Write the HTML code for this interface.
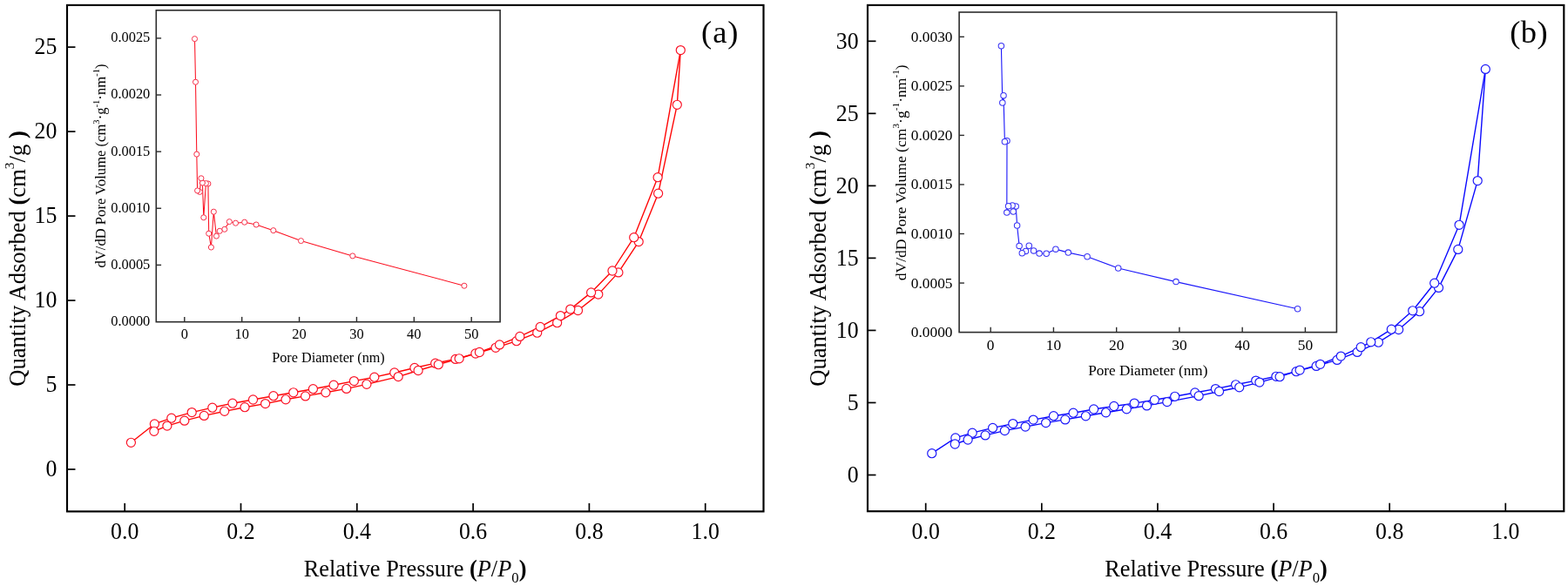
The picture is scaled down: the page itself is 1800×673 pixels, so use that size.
<!DOCTYPE html>
<html lang="en"><head><meta charset="utf-8"><title>N2 adsorption-desorption isotherms and pore size distributions</title>
<style>html,body{margin:0;padding:0;background:#fff;}body{width:1800px;height:673px;overflow:hidden;}svg{display:block;font-family:"Liberation Serif","Times New Roman",serif;}text{fill:#000;}</style>
</head><body>
<svg width="1800" height="673" viewBox="0 0 1800 673">
<rect width="1800" height="673" fill="#fff"/>
<g id="panel-a">
<g class="main-data">
<polyline points="150.4,508.3 177.4,486.95 196.8,480.2 220.2,473.6 243.8,468.2 266.95,463.2 290.5,459 313.9,454.7 336.8,450.8 359.4,446.7 383.1,442.2 406.4,437.6 429.8,433.2 452.8,428 475.9,422.5 499.7,417.2 522.9,412.4 545.9,406 569,399.3 592.9,391.7 616.7,382.2 639.6,370.7 663.5,356.5 686.8,338.1 709.9,312.9 733.2,277.6 755.6,222.2 777.3,120.3 781.3,57.6" fill="none" stroke="#ff0505" stroke-width="1.38" stroke-linejoin="round"/>
<polyline points="176.85,495.3 191.9,489.1 211.8,483.15 234.3,477.4 257.7,472.3 281,467.7 304.6,463.6 328,458.8 350.6,454.9 373.9,450.8 397.7,446.4 420.9,441.3 457.2,432.6 480.1,425.5 503.3,418.7 527.1,411.8 550.4,404.5 573.5,395.9 596.8,386.4 620.2,375.4 643.4,362.6 654.8,355.1 678.6,335.9 703,311 727.7,272.7 755.1,203.7 781.3,57.6" fill="none" stroke="#ff0505" stroke-width="1.38" stroke-linejoin="round"/>
<g fill="#fff" stroke="#fa1226" stroke-width="1.18">
<circle cx="150.4" cy="508.3" r="5.05"/>
<circle cx="177.4" cy="486.95" r="5.05"/>
<circle cx="196.8" cy="480.2" r="5.05"/>
<circle cx="220.2" cy="473.6" r="5.05"/>
<circle cx="243.8" cy="468.2" r="5.05"/>
<circle cx="266.95" cy="463.2" r="5.05"/>
<circle cx="290.5" cy="459" r="5.05"/>
<circle cx="313.9" cy="454.7" r="5.05"/>
<circle cx="336.8" cy="450.8" r="5.05"/>
<circle cx="359.4" cy="446.7" r="5.05"/>
<circle cx="383.1" cy="442.2" r="5.05"/>
<circle cx="406.4" cy="437.6" r="5.05"/>
<circle cx="429.8" cy="433.2" r="5.05"/>
<circle cx="452.8" cy="428" r="5.05"/>
<circle cx="475.9" cy="422.5" r="5.05"/>
<circle cx="499.7" cy="417.2" r="5.05"/>
<circle cx="522.9" cy="412.4" r="5.05"/>
<circle cx="545.9" cy="406" r="5.05"/>
<circle cx="569" cy="399.3" r="5.05"/>
<circle cx="592.9" cy="391.7" r="5.05"/>
<circle cx="616.7" cy="382.2" r="5.05"/>
<circle cx="639.6" cy="370.7" r="5.05"/>
<circle cx="663.5" cy="356.5" r="5.05"/>
<circle cx="686.8" cy="338.1" r="5.05"/>
<circle cx="709.9" cy="312.9" r="5.05"/>
<circle cx="733.2" cy="277.6" r="5.05"/>
<circle cx="755.6" cy="222.2" r="5.05"/>
<circle cx="777.3" cy="120.3" r="5.05"/>
</g>
<g fill="#fff" stroke="#fa1226" stroke-width="1.18">
<circle cx="176.85" cy="495.3" r="5.05"/>
<circle cx="191.9" cy="489.1" r="5.05"/>
<circle cx="211.8" cy="483.15" r="5.05"/>
<circle cx="234.3" cy="477.4" r="5.05"/>
<circle cx="257.7" cy="472.3" r="5.05"/>
<circle cx="281" cy="467.7" r="5.05"/>
<circle cx="304.6" cy="463.6" r="5.05"/>
<circle cx="328" cy="458.8" r="5.05"/>
<circle cx="350.6" cy="454.9" r="5.05"/>
<circle cx="373.9" cy="450.8" r="5.05"/>
<circle cx="397.7" cy="446.4" r="5.05"/>
<circle cx="420.9" cy="441.3" r="5.05"/>
<circle cx="457.2" cy="432.6" r="5.05"/>
<circle cx="480.1" cy="425.5" r="5.05"/>
<circle cx="503.3" cy="418.7" r="5.05"/>
<circle cx="527.1" cy="411.8" r="5.05"/>
<circle cx="550.4" cy="404.5" r="5.05"/>
<circle cx="573.5" cy="395.9" r="5.05"/>
<circle cx="596.8" cy="386.4" r="5.05"/>
<circle cx="620.2" cy="375.4" r="5.05"/>
<circle cx="643.4" cy="362.6" r="5.05"/>
<circle cx="654.8" cy="355.1" r="5.05"/>
<circle cx="678.6" cy="335.9" r="5.05"/>
<circle cx="703" cy="311" r="5.05"/>
<circle cx="727.7" cy="272.7" r="5.05"/>
<circle cx="755.1" cy="203.7" r="5.05"/>
<circle cx="781.3" cy="57.6" r="5.05"/>
</g>
</g>
<rect x="77" y="5.9" width="799.5" height="581.5" fill="none" stroke="#000" stroke-width="2.15"/>
<g stroke="#000" stroke-width="1.7">
<line x1="77" y1="539" x2="86.48" y2="539"/>
<line x1="77" y1="442.02" x2="86.48" y2="442.02"/>
<line x1="77" y1="345.04" x2="86.48" y2="345.04"/>
<line x1="77" y1="248.06" x2="86.48" y2="248.06"/>
<line x1="77" y1="151.08" x2="86.48" y2="151.08"/>
<line x1="77" y1="54.1" x2="86.48" y2="54.1"/>
<line x1="143.2" y1="587.4" x2="143.2" y2="577.92"/>
<line x1="276.5" y1="587.4" x2="276.5" y2="577.92"/>
<line x1="409.8" y1="587.4" x2="409.8" y2="577.92"/>
<line x1="543.1" y1="587.4" x2="543.1" y2="577.92"/>
<line x1="676.4" y1="587.4" x2="676.4" y2="577.92"/>
<line x1="809.7" y1="587.4" x2="809.7" y2="577.92"/>
</g>
<g font-size="27.0" text-anchor="end">
<text transform="translate(65.4 546.9) scale(0.957 1.015)">0</text>
<text transform="translate(65.4 449.92) scale(0.957 1.015)">5</text>
<text transform="translate(65.4 352.94) scale(0.957 1.015)">10</text>
<text transform="translate(65.4 255.96) scale(0.957 1.015)">15</text>
<text transform="translate(65.4 158.98) scale(0.957 1.015)">20</text>
<text transform="translate(65.4 62) scale(0.957 1.015)">25</text>
</g>
<g font-size="27.0" text-anchor="middle">
<text transform="translate(143.2 618.5) scale(0.957 1.015)">0.0</text>
<text transform="translate(276.5 618.5) scale(0.957 1.015)">0.2</text>
<text transform="translate(409.8 618.5) scale(0.957 1.015)">0.4</text>
<text transform="translate(543.1 618.5) scale(0.957 1.015)">0.6</text>
<text transform="translate(676.4 618.5) scale(0.957 1.015)">0.8</text>
<text transform="translate(809.7 618.5) scale(0.957 1.015)">1.0</text>
</g>
<text x="476.6" y="662.1" font-size="26.35" text-anchor="middle">Relative Pressure <tspan font-weight="bold">(</tspan><tspan font-style="italic">P</tspan>/<tspan font-style="italic">P</tspan><tspan font-size="16.73" dy="7.3">0</tspan><tspan font-weight="bold" dy="-7.3">)</tspan></text>
<text transform="translate(28.8 297) rotate(-90)" font-size="26.6" text-anchor="middle">Quantity Adsorbed <tspan font-weight="bold">(</tspan>cm<tspan font-size="15.43" dy="-12.8">3</tspan><tspan dy="12.8">/g </tspan><tspan font-weight="bold">)</tspan></text>
<text x="805" y="49.3" font-size="36.5" letter-spacing="1.0">(a)</text>
<g class="inset">
<rect x="179.3" y="11.8" width="394.8" height="357.9" fill="#fff" stroke="none"/>
<polyline points="223.5,44.6 224.5,94.2 225.8,177.1 226.6,218.9 229.3,220.4 230.9,204.8 232.4,210 233.8,249.8 236.4,210.6 238.9,211 239.7,268.2 242.4,284 245.3,243.2 248.4,271.1 252.2,265.3 257.8,263.3 263.3,254.6 270.5,256.2 280.7,255.2 294.1,258 313.8,264.65 345.5,276.6 404.8,293.9 532.9,328.2" fill="none" stroke="#fb1020" stroke-width="1.05" stroke-linejoin="round"/>
<g fill="#fff" stroke="#f6304a" stroke-width="1">
<circle cx="532.9" cy="328.2" r="3.05"/>
<circle cx="404.8" cy="293.9" r="3.05"/>
<circle cx="345.5" cy="276.6" r="3.05"/>
<circle cx="313.8" cy="264.65" r="3.05"/>
<circle cx="294.1" cy="258" r="3.05"/>
<circle cx="280.7" cy="255.2" r="3.05"/>
<circle cx="270.5" cy="256.2" r="3.05"/>
<circle cx="263.3" cy="254.6" r="3.05"/>
<circle cx="257.8" cy="263.3" r="3.05"/>
<circle cx="252.2" cy="265.3" r="3.05"/>
<circle cx="248.4" cy="271.1" r="3.05"/>
<circle cx="245.3" cy="243.2" r="3.05"/>
<circle cx="242.4" cy="284" r="3.05"/>
<circle cx="239.7" cy="268.2" r="3.05"/>
<circle cx="238.9" cy="211" r="3.05"/>
<circle cx="236.4" cy="210.6" r="3.05"/>
<circle cx="233.8" cy="249.8" r="3.05"/>
<circle cx="232.4" cy="210" r="3.05"/>
<circle cx="230.9" cy="204.8" r="3.05"/>
<circle cx="229.3" cy="220.4" r="3.05"/>
<circle cx="226.6" cy="218.9" r="3.05"/>
<circle cx="225.8" cy="177.1" r="3.05"/>
<circle cx="224.5" cy="94.2" r="3.05"/>
<circle cx="223.5" cy="44.6" r="3.05"/>
</g>
<rect x="179.3" y="11.8" width="394.8" height="357.9" fill="none" stroke="#2c2c2c" stroke-width="1.6"/>
<g stroke="#2c2c2c" stroke-width="1.4">
<line x1="179.3" y1="304.38" x2="185.1" y2="304.38"/>
<line x1="179.3" y1="239.26" x2="185.1" y2="239.26"/>
<line x1="179.3" y1="174.14" x2="185.1" y2="174.14"/>
<line x1="179.3" y1="109.02" x2="185.1" y2="109.02"/>
<line x1="179.3" y1="43.9" x2="185.1" y2="43.9"/>
<line x1="211.8" y1="369.7" x2="211.8" y2="363.9"/>
<line x1="277.68" y1="369.7" x2="277.68" y2="363.9"/>
<line x1="343.56" y1="369.7" x2="343.56" y2="363.9"/>
<line x1="409.44" y1="369.7" x2="409.44" y2="363.9"/>
<line x1="475.32" y1="369.7" x2="475.32" y2="363.9"/>
<line x1="541.2" y1="369.7" x2="541.2" y2="363.9"/>
</g>
<g font-size="16.4" text-anchor="end" fill="#111">
<text x="172.3" y="373.9">0.0000</text>
<text x="172.3" y="308.78">0.0005</text>
<text x="172.3" y="243.66">0.0010</text>
<text x="172.3" y="178.54">0.0015</text>
<text x="172.3" y="113.42">0.0020</text>
<text x="172.3" y="48.3">0.0025</text>
</g>
<g font-size="16.4" text-anchor="middle" fill="#111">
<text x="211.8" y="388.6">0</text>
<text x="277.68" y="388.6">10</text>
<text x="343.56" y="388.6">20</text>
<text x="409.44" y="388.6">30</text>
<text x="475.32" y="388.6">40</text>
<text x="541.2" y="388.6">50</text>
</g>
<text x="377" y="416" font-size="16.2" text-anchor="middle" fill="#111">Pore Diameter (nm)</text>
<text transform="translate(120.5 190.5) rotate(-90)" font-size="16.6" text-anchor="middle" fill="#111">dV/dD Pore Volume (cm<tspan font-size="10.62" dy="-6.8">3</tspan><tspan dy="6.8">·g</tspan><tspan font-size="10.62" dy="-6.8">-1</tspan><tspan dy="6.8">·nm</tspan><tspan font-size="10.62" dy="-6.8">-1</tspan><tspan dy="6.8">)</tspan></text>
</g>
</g>
<g id="panel-b">
<g class="main-data">
<polyline points="1069.75,520.7 1096.85,502.9 1116.2,497.2 1139.6,491.4 1162.8,486.6 1186.2,482.1 1209.5,477.7 1232.1,474.2 1255.6,470 1278.8,466.5 1302.2,463.1 1325.4,459.3 1348.7,455.3 1371.8,451 1395.4,446.6 1418.6,441.8 1441.7,437.1 1464.9,432.3 1488,426.7 1511.1,420.4 1534.9,413.4 1558.1,404.4 1582.4,393.2 1605.6,378.5 1629.6,357.7 1651.5,330.4 1673.8,286.4 1696.2,207.6 1705.3,79.4" fill="none" stroke="#0a08ff" stroke-width="1.38" stroke-linejoin="round"/>
<polyline points="1096.25,510 1111.1,505 1131.1,499.9 1153.4,494.6 1177.1,490.1 1200.6,485.6 1222.8,481.9 1246.4,477.8 1269.5,473.8 1293.3,469.8 1316.5,465.9 1339.8,461.6 1376.1,454.65 1399.5,449.5 1422.7,444.8 1445.9,439.1 1469.1,432.7 1492.1,425.1 1515.6,418.35 1539.3,409.1 1562.2,398.7 1573.8,392.8 1597.3,378.2 1621.7,356.8 1646.7,325.2 1675.1,258.3 1705.3,79.4" fill="none" stroke="#0a08ff" stroke-width="1.38" stroke-linejoin="round"/>
<g fill="#fff" stroke="#1c18f8" stroke-width="1.18">
<circle cx="1069.75" cy="520.7" r="5.05"/>
<circle cx="1096.85" cy="502.9" r="5.05"/>
<circle cx="1116.2" cy="497.2" r="5.05"/>
<circle cx="1139.6" cy="491.4" r="5.05"/>
<circle cx="1162.8" cy="486.6" r="5.05"/>
<circle cx="1186.2" cy="482.1" r="5.05"/>
<circle cx="1209.5" cy="477.7" r="5.05"/>
<circle cx="1232.1" cy="474.2" r="5.05"/>
<circle cx="1255.6" cy="470" r="5.05"/>
<circle cx="1278.8" cy="466.5" r="5.05"/>
<circle cx="1302.2" cy="463.1" r="5.05"/>
<circle cx="1325.4" cy="459.3" r="5.05"/>
<circle cx="1348.7" cy="455.3" r="5.05"/>
<circle cx="1371.8" cy="451" r="5.05"/>
<circle cx="1395.4" cy="446.6" r="5.05"/>
<circle cx="1418.6" cy="441.8" r="5.05"/>
<circle cx="1441.7" cy="437.1" r="5.05"/>
<circle cx="1464.9" cy="432.3" r="5.05"/>
<circle cx="1488" cy="426.7" r="5.05"/>
<circle cx="1511.1" cy="420.4" r="5.05"/>
<circle cx="1534.9" cy="413.4" r="5.05"/>
<circle cx="1558.1" cy="404.4" r="5.05"/>
<circle cx="1582.4" cy="393.2" r="5.05"/>
<circle cx="1605.6" cy="378.5" r="5.05"/>
<circle cx="1629.6" cy="357.7" r="5.05"/>
<circle cx="1651.5" cy="330.4" r="5.05"/>
<circle cx="1673.8" cy="286.4" r="5.05"/>
<circle cx="1696.2" cy="207.6" r="5.05"/>
</g>
<g fill="#fff" stroke="#1c18f8" stroke-width="1.18">
<circle cx="1096.25" cy="510" r="5.05"/>
<circle cx="1111.1" cy="505" r="5.05"/>
<circle cx="1131.1" cy="499.9" r="5.05"/>
<circle cx="1153.4" cy="494.6" r="5.05"/>
<circle cx="1177.1" cy="490.1" r="5.05"/>
<circle cx="1200.6" cy="485.6" r="5.05"/>
<circle cx="1222.8" cy="481.9" r="5.05"/>
<circle cx="1246.4" cy="477.8" r="5.05"/>
<circle cx="1269.5" cy="473.8" r="5.05"/>
<circle cx="1293.3" cy="469.8" r="5.05"/>
<circle cx="1316.5" cy="465.9" r="5.05"/>
<circle cx="1339.8" cy="461.6" r="5.05"/>
<circle cx="1376.1" cy="454.65" r="5.05"/>
<circle cx="1399.5" cy="449.5" r="5.05"/>
<circle cx="1422.7" cy="444.8" r="5.05"/>
<circle cx="1445.9" cy="439.1" r="5.05"/>
<circle cx="1469.1" cy="432.7" r="5.05"/>
<circle cx="1492.1" cy="425.1" r="5.05"/>
<circle cx="1515.6" cy="418.35" r="5.05"/>
<circle cx="1539.3" cy="409.1" r="5.05"/>
<circle cx="1562.2" cy="398.7" r="5.05"/>
<circle cx="1573.8" cy="392.8" r="5.05"/>
<circle cx="1597.3" cy="378.2" r="5.05"/>
<circle cx="1621.7" cy="356.8" r="5.05"/>
<circle cx="1646.7" cy="325.2" r="5.05"/>
<circle cx="1675.1" cy="258.3" r="5.05"/>
<circle cx="1705.3" cy="79.4" r="5.05"/>
</g>
</g>
<rect x="996" y="5.9" width="799.3" height="581.3" fill="none" stroke="#000" stroke-width="2.15"/>
<g stroke="#000" stroke-width="1.7">
<line x1="996" y1="545.5" x2="1005.48" y2="545.5"/>
<line x1="996" y1="462.47" x2="1005.48" y2="462.47"/>
<line x1="996" y1="379.43" x2="1005.48" y2="379.43"/>
<line x1="996" y1="296.4" x2="1005.48" y2="296.4"/>
<line x1="996" y1="213.37" x2="1005.48" y2="213.37"/>
<line x1="996" y1="130.33" x2="1005.48" y2="130.33"/>
<line x1="996" y1="47.3" x2="1005.48" y2="47.3"/>
<line x1="1062.7" y1="587.2" x2="1062.7" y2="577.73"/>
<line x1="1195.82" y1="587.2" x2="1195.82" y2="577.73"/>
<line x1="1328.94" y1="587.2" x2="1328.94" y2="577.73"/>
<line x1="1462.06" y1="587.2" x2="1462.06" y2="577.73"/>
<line x1="1595.18" y1="587.2" x2="1595.18" y2="577.73"/>
<line x1="1728.3" y1="587.2" x2="1728.3" y2="577.73"/>
</g>
<g font-size="27.0" text-anchor="end">
<text transform="translate(985.6 553.8) scale(0.957 1.015)">0</text>
<text transform="translate(985.6 470.77) scale(0.957 1.015)">5</text>
<text transform="translate(985.6 387.73) scale(0.957 1.015)">10</text>
<text transform="translate(985.6 304.7) scale(0.957 1.015)">15</text>
<text transform="translate(985.6 221.67) scale(0.957 1.015)">20</text>
<text transform="translate(985.6 138.63) scale(0.957 1.015)">25</text>
<text transform="translate(985.6 55.6) scale(0.957 1.015)">30</text>
</g>
<g font-size="27.0" text-anchor="middle">
<text transform="translate(1062.7 618.5) scale(0.957 1.015)">0.0</text>
<text transform="translate(1195.82 618.5) scale(0.957 1.015)">0.2</text>
<text transform="translate(1328.94 618.5) scale(0.957 1.015)">0.4</text>
<text transform="translate(1462.06 618.5) scale(0.957 1.015)">0.6</text>
<text transform="translate(1595.18 618.5) scale(0.957 1.015)">0.8</text>
<text transform="translate(1728.3 618.5) scale(0.957 1.015)">1.0</text>
</g>
<text x="1396" y="662.1" font-size="26.35" text-anchor="middle">Relative Pressure <tspan font-weight="bold">(</tspan><tspan font-style="italic">P</tspan>/<tspan font-style="italic">P</tspan><tspan font-size="16.73" dy="7.3">0</tspan><tspan font-weight="bold" dy="-7.3">)</tspan></text>
<text transform="translate(948 297) rotate(-90)" font-size="26.6" text-anchor="middle">Quantity Adsorbed <tspan font-weight="bold">(</tspan>cm<tspan font-size="15.43" dy="-12.8">3</tspan><tspan dy="12.8">/g </tspan><tspan font-weight="bold">)</tspan></text>
<text x="1733.2" y="49.3" font-size="36.5" letter-spacing="0.4">(b)</text>
<g class="inset">
<rect x="1101.1" y="14" width="433.3" height="367.6" fill="#fff" stroke="none"/>
<polyline points="1149.4,52.8 1150.8,118 1152,109.8 1153.4,162.8 1156,161.7 1155.8,244.1 1157.6,236.7 1162.1,236 1163.2,243 1166.2,236.9 1167.6,259 1170.1,282.4 1173.3,290.8 1177.5,288.4 1181.3,282.3 1186.6,287.9 1193.1,291.1 1201.2,291.2 1211.9,286.15 1226.3,290.1 1248.1,294.7 1283.7,308 1350,323.6 1489.6,354.8" fill="none" stroke="#1c18fa" stroke-width="1.11" stroke-linejoin="round"/>
<g fill="#fff" stroke="#3a34f4" stroke-width="1.06">
<circle cx="1489.6" cy="354.8" r="3.23"/>
<circle cx="1350" cy="323.6" r="3.23"/>
<circle cx="1283.7" cy="308" r="3.23"/>
<circle cx="1248.1" cy="294.7" r="3.23"/>
<circle cx="1226.3" cy="290.1" r="3.23"/>
<circle cx="1211.9" cy="286.15" r="3.23"/>
<circle cx="1201.2" cy="291.2" r="3.23"/>
<circle cx="1193.1" cy="291.1" r="3.23"/>
<circle cx="1186.6" cy="287.9" r="3.23"/>
<circle cx="1181.3" cy="282.3" r="3.23"/>
<circle cx="1177.5" cy="288.4" r="3.23"/>
<circle cx="1173.3" cy="290.8" r="3.23"/>
<circle cx="1170.1" cy="282.4" r="3.23"/>
<circle cx="1167.6" cy="259" r="3.23"/>
<circle cx="1166.2" cy="236.9" r="3.23"/>
<circle cx="1163.2" cy="243" r="3.23"/>
<circle cx="1162.1" cy="236" r="3.23"/>
<circle cx="1157.6" cy="236.7" r="3.23"/>
<circle cx="1155.8" cy="244.1" r="3.23"/>
<circle cx="1156" cy="161.7" r="3.23"/>
<circle cx="1153.4" cy="162.8" r="3.23"/>
<circle cx="1152" cy="109.8" r="3.23"/>
<circle cx="1150.8" cy="118" r="3.23"/>
<circle cx="1149.4" cy="52.8" r="3.23"/>
</g>
<rect x="1101.1" y="14" width="433.3" height="367.6" fill="none" stroke="#2c2c2c" stroke-width="1.6"/>
<g stroke="#2c2c2c" stroke-width="1.4">
<line x1="1101.1" y1="325.05" x2="1106.9" y2="325.05"/>
<line x1="1101.1" y1="268.5" x2="1106.9" y2="268.5"/>
<line x1="1101.1" y1="211.95" x2="1106.9" y2="211.95"/>
<line x1="1101.1" y1="155.4" x2="1106.9" y2="155.4"/>
<line x1="1101.1" y1="98.85" x2="1106.9" y2="98.85"/>
<line x1="1101.1" y1="42.3" x2="1106.9" y2="42.3"/>
<line x1="1137.2" y1="381.6" x2="1137.2" y2="375.8"/>
<line x1="1209.44" y1="381.6" x2="1209.44" y2="375.8"/>
<line x1="1281.68" y1="381.6" x2="1281.68" y2="375.8"/>
<line x1="1353.92" y1="381.6" x2="1353.92" y2="375.8"/>
<line x1="1426.16" y1="381.6" x2="1426.16" y2="375.8"/>
<line x1="1498.4" y1="381.6" x2="1498.4" y2="375.8"/>
</g>
<g font-size="17.38" text-anchor="end" fill="#111">
<text x="1093.5" y="387.1">0.0000</text>
<text x="1093.5" y="330.55">0.0005</text>
<text x="1093.5" y="274">0.0010</text>
<text x="1093.5" y="217.45">0.0015</text>
<text x="1093.5" y="160.9">0.0020</text>
<text x="1093.5" y="104.35">0.0025</text>
<text x="1093.5" y="47.8">0.0030</text>
</g>
<g font-size="17.38" text-anchor="middle" fill="#111">
<text x="1137.2" y="402.1">0</text>
<text x="1209.44" y="402.1">10</text>
<text x="1281.68" y="402.1">20</text>
<text x="1353.92" y="402.1">30</text>
<text x="1426.16" y="402.1">40</text>
<text x="1498.4" y="402.1">50</text>
</g>
<text x="1317.8" y="431.1" font-size="17.17" text-anchor="middle" fill="#111">Pore Diameter (nm)</text>
<text transform="translate(1039.6 198.3) rotate(-90)" font-size="17.6" text-anchor="middle" fill="#111">dV/dD Pore Volume (cm<tspan font-size="11.26" dy="-7.3">3</tspan><tspan dy="7.3">·g</tspan><tspan font-size="11.26" dy="-7.3">-1</tspan><tspan dy="7.3">·nm</tspan><tspan font-size="11.26" dy="-7.3">-1</tspan><tspan dy="7.3">)</tspan></text>
</g>
</g>
</svg></body></html>
